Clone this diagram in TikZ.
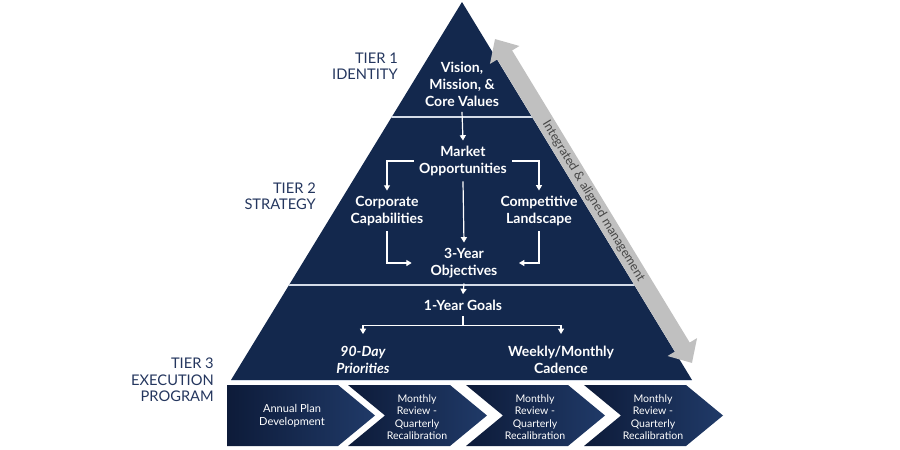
\documentclass[tikz,border=0pt]{standalone}
\usepackage{fontspec}
\setmainfont{Lato}
\usepackage{tikz}
\usetikzlibrary{arrows.meta, positioning, calc}
\definecolor{pyrnavy}{RGB}{19,40,77}
\definecolor{chevdark}{RGB}{13,27,57}
\definecolor{chevlight}{RGB}{32,58,104}
\definecolor{tierblue}{RGB}{36,54,94}
\definecolor{mggray}{RGB}{192,192,192}
\definecolor{mgtext}{RGB}{70,70,70}
\definecolor{seplight}{RGB}{212,220,232}
\tikzset{
  ptext/.style={text=white, align=center, inner sep=4pt,
    font=\fontsize{10.5}{12.75}\selectfont\bfseries},
  chevtext/.style={text=white, align=center, inner sep=0pt,
    font=\fontsize{7.9}{9.3}\selectfont},
  tierlabel/.style={text=tierblue, align=right, anchor=east, inner sep=0pt,
    font=\fontsize{11}{12.3}\selectfont},
  arrow/.style={-{Triangle[length=4pt,width=4.5pt]}, line width=0.9pt, color=white},
  line/.style={line width=0.9pt, color=white},
  sepline/.style={line width=1.1pt, color=seplight},
  mgarrow/.style={{Triangle[length=14pt,width=25pt]}-{Triangle[length=14pt,width=25pt]},
    line width=13pt, color=mggray}
}

\begin{document}
\begin{tikzpicture}[x=0.75pt, y=-0.75pt,
  chevron/.style={left color=chevdark, right color=chevlight}]
  \useasboundingbox (0,0) rectangle (900,450);

  % Pyramid body
  \coordinate (apex) at (462,2);
  \coordinate (baseL) at (231,380);
  \coordinate (baseR) at (692,380);
  \fill[pyrnavy] (apex) -- (baseR) -- (baseL) -- cycle;
  \begin{scope}
    \clip (apex) -- (baseR) -- (baseL) -- cycle;
    \draw[sepline] (200,117) -- (720,117);
    \draw[sepline] (200,285) -- (720,285);
  \end{scope}
  \draw[seplight, line width=0.6pt] (baseL) -- (baseR);

  % Tier labels on left
  \node[tierlabel] (tier1) at (398,66) {TIER 1\\IDENTITY};
  \node[tierlabel] (tier2) at (316,196) {TIER 2\\STRATEGY};
  \node[tierlabel] (tier3) at (214,380) {TIER 3\\EXECUTION\\PROGRAM};

  % Tier 1
  \node[ptext] (vision) at (462,84) {Vision,\\Mission, \&\\Core Values};

  % Tier 2
  \node[ptext] (market) at (463,161) {Market\\Opportunities};
  \node[ptext] (corpcap) at (387,211) {Corporate\\Capabilities};
  \node[ptext] (complands) at (539,211) {Competitive\\Landscape};
  \node[ptext] (objectives) at (464,263) {3-Year\\Objectives};

  % Tier 3
  \node[ptext] (goals) at (463,305) {1-Year Goals};
  \node[ptext, font=\fontsize{10.5}{12.75}\selectfont\bfseries\itshape] (priorities) at (363,360) {90-Day\\Priorities};
  \node[ptext] (cadence) at (561,360) {Weekly/Monthly\\Cadence};

  % Connections inside the pyramid
  \draw[arrow] (vision.south) -- (market.north);
  \draw[arrow] (market.west) -| (corpcap.north);
  \draw[arrow] (market.east) -| (complands.north);
  \draw[arrow] (market.south) -- (objectives.north);
  \draw[arrow] (corpcap.south) |- ([xshift=-10pt]objectives.west);
  \draw[arrow] (complands.south) |- ([xshift=12pt]objectives.east);
  \draw[arrow] (objectives.south) -- (goals.north);
  \coordinate (split) at ($(goals.south)+(0,10)$);
  \draw[line] (goals.south) -- (split);
  \draw[arrow] (split) -| ([yshift=5pt]priorities.north);
  \draw[arrow] (split) -| ([yshift=5pt]cadence.north);

  % Management arrow along the right side
  \coordinate (mgtop) at (495,39);
  \coordinate (mgbot) at (692,363);
  \draw[mgarrow] (mgtop) -- (mgbot)
    node[midway, sloped, text=mgtext, font=\fontsize{9.4}{10}\selectfont] (mglabel) {Integrated \& aligned management};

  % Execution program chevrons
  \shade[chevron] (227,385) -- (338,385) -- (375,415.5) -- (338,446) -- (227,446) -- cycle;
  \node[chevtext, font=\fontsize{8.3}{9.8}\selectfont] (annual) at (292,416) {Annual Plan\\Development};
  \foreach \x [count=\i from 2] in {348,466,584} {
    \shade[chevron] (\x,385) -- ++(102,0) -- ++(37,30.5) -- ++(-37,30.5)
      -- ++(-102,0) -- ++(37,-30.5) -- cycle;
    \node[chevtext] (review\i) at (\x+69,417) {Monthly\\Review -\\Quarterly\\Recalibration};
  }
\end{tikzpicture}
\end{document}
